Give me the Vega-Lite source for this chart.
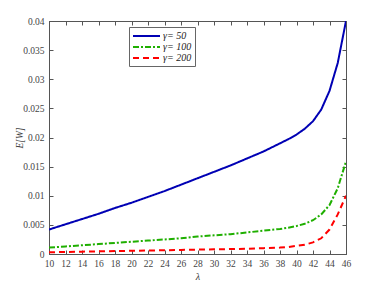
{
  "$schema": "https://vega.github.io/schema/vega-lite/v6.json",
  "width": 297,
  "height": 233,
  "autosize": {"type": "none"},
  "padding": {"left": 49, "top": 21, "right": 36, "bottom": 32},
  "background": "white",
  "config": {
    "view": {"stroke": "#555", "strokeWidth": 1},
    "font": "Times New Roman, Liberation Serif, serif"
  },
  "data": {"values": [
    {"lam": 10, "ew": 0.0042, "g": "γ= 50"}, {"lam": 12, "ew": 0.0051, "g": "γ= 50"}, {"lam": 14, "ew": 0.0060, "g": "γ= 50"}, {"lam": 16, "ew": 0.0069, "g": "γ= 50"}, {"lam": 18, "ew": 0.0079, "g": "γ= 50"}, {"lam": 20, "ew": 0.0088, "g": "γ= 50"}, {"lam": 22, "ew": 0.0098, "g": "γ= 50"}, {"lam": 24, "ew": 0.0108, "g": "γ= 50"}, {"lam": 26, "ew": 0.0119, "g": "γ= 50"}, {"lam": 28, "ew": 0.0130, "g": "γ= 50"}, {"lam": 30, "ew": 0.0141, "g": "γ= 50"}, {"lam": 32, "ew": 0.0152, "g": "γ= 50"}, {"lam": 34, "ew": 0.0164, "g": "γ= 50"}, {"lam": 36, "ew": 0.0176, "g": "γ= 50"}, {"lam": 38, "ew": 0.0190, "g": "γ= 50"}, {"lam": 39, "ew": 0.0197, "g": "γ= 50"}, {"lam": 40, "ew": 0.0205, "g": "γ= 50"}, {"lam": 41, "ew": 0.0215, "g": "γ= 50"}, {"lam": 42, "ew": 0.0228, "g": "γ= 50"}, {"lam": 43, "ew": 0.0248, "g": "γ= 50"}, {"lam": 44, "ew": 0.0280, "g": "γ= 50"}, {"lam": 45, "ew": 0.0328, "g": "γ= 50"}, {"lam": 46, "ew": 0.0400, "g": "γ= 50"},
    {"lam": 10, "ew": 0.0011, "g": "γ= 100"}, {"lam": 12, "ew": 0.0013, "g": "γ= 100"}, {"lam": 14, "ew": 0.0015, "g": "γ= 100"}, {"lam": 16, "ew": 0.0017, "g": "γ= 100"}, {"lam": 18, "ew": 0.0019, "g": "γ= 100"}, {"lam": 20, "ew": 0.0021, "g": "γ= 100"}, {"lam": 22, "ew": 0.0023, "g": "γ= 100"}, {"lam": 24, "ew": 0.0025, "g": "γ= 100"}, {"lam": 26, "ew": 0.0027, "g": "γ= 100"}, {"lam": 28, "ew": 0.0030, "g": "γ= 100"}, {"lam": 30, "ew": 0.0032, "g": "γ= 100"}, {"lam": 32, "ew": 0.0034, "g": "γ= 100"}, {"lam": 34, "ew": 0.0037, "g": "γ= 100"}, {"lam": 36, "ew": 0.0040, "g": "γ= 100"}, {"lam": 38, "ew": 0.0043, "g": "γ= 100"}, {"lam": 39, "ew": 0.0045, "g": "γ= 100"}, {"lam": 40, "ew": 0.0048, "g": "γ= 100"}, {"lam": 41, "ew": 0.0052, "g": "γ= 100"}, {"lam": 42, "ew": 0.0058, "g": "γ= 100"}, {"lam": 43, "ew": 0.0068, "g": "γ= 100"}, {"lam": 44, "ew": 0.0084, "g": "γ= 100"}, {"lam": 45, "ew": 0.0113, "g": "γ= 100"}, {"lam": 46, "ew": 0.0159, "g": "γ= 100"},
    {"lam": 10, "ew": 0.0003, "g": "γ= 200"}, {"lam": 12, "ew": 0.00035, "g": "γ= 200"}, {"lam": 14, "ew": 0.0004, "g": "γ= 200"}, {"lam": 16, "ew": 0.00045, "g": "γ= 200"}, {"lam": 18, "ew": 0.0005, "g": "γ= 200"}, {"lam": 20, "ew": 0.00055, "g": "γ= 200"}, {"lam": 22, "ew": 0.0006, "g": "γ= 200"}, {"lam": 24, "ew": 0.00065, "g": "γ= 200"}, {"lam": 26, "ew": 0.0007, "g": "γ= 200"}, {"lam": 28, "ew": 0.00075, "g": "γ= 200"}, {"lam": 30, "ew": 0.0008, "g": "γ= 200"}, {"lam": 32, "ew": 0.00085, "g": "γ= 200"}, {"lam": 34, "ew": 0.0009, "g": "γ= 200"}, {"lam": 36, "ew": 0.0010, "g": "γ= 200"}, {"lam": 38, "ew": 0.0011, "g": "γ= 200"}, {"lam": 39, "ew": 0.0012, "g": "γ= 200"}, {"lam": 40, "ew": 0.0014, "g": "γ= 200"}, {"lam": 41, "ew": 0.0016, "g": "γ= 200"}, {"lam": 42, "ew": 0.0020, "g": "γ= 200"}, {"lam": 43, "ew": 0.0027, "g": "γ= 200"}, {"lam": 44, "ew": 0.0042, "g": "γ= 200"}, {"lam": 45, "ew": 0.0068, "g": "γ= 200"}, {"lam": 46, "ew": 0.0100, "g": "γ= 200"}
  ]},
  "layer": [
    {
      "mark": {"type": "line", "strokeWidth": 2, "clip": true},
      "encoding": {
        "x": {"field": "lam", "type": "quantitative", "scale": {"domain": [10, 46], "nice": false},
          "axis": {"orient": "bottom", "values": [10,12,14,16,18,20,22,24,26,28,30,32,34,36,38,40,42,44,46], "title": "λ", "titleFont": "Times New Roman, Liberation Serif, serif", "titleFontStyle": "italic", "titleFontWeight": "normal", "titleFontSize": 10, "titleColor": "#333", "titlePadding": 4, "labelFont": "Times New Roman, Liberation Serif, serif", "labelFontSize": 9.5, "labelColor": "#444", "tickSize": -4, "tickColor": "#555", "labelPadding": 8, "domainColor": "#555", "grid": false, "labelFlush": false}},
        "y": {"field": "ew", "type": "quantitative", "scale": {"domain": [0, 0.04], "nice": false},
          "axis": {"orient": "left", "values": [0,0.005,0.01,0.015,0.02,0.025,0.03,0.035,0.04], "format": "~g", "title": "E[W]", "titleFont": "Times New Roman, Liberation Serif, serif", "titleFontStyle": "italic", "titleFontWeight": "normal", "titleFontSize": 9.5, "titleColor": "#333", "titlePadding": -2, "labelFont": "Times New Roman, Liberation Serif, serif", "labelFontSize": 9.5, "labelColor": "#444", "tickSize": -4, "tickColor": "#555", "labelPadding": 9, "domainColor": "#555", "grid": false}},
        "color": {"field": "g", "type": "nominal", "scale": {"domain": ["γ= 50", "γ= 100", "γ= 200"], "range": ["#0000b4", "#1faf00", "#ff0000"]},
          "legend": {"orient": "none", "legendX": 80, "legendY": 6, "title": null, "symbolType": "M-1,0H4.4", "symbolSize": 100, "symbolStrokeWidth": 2, "symbolFillColor": "transparent", "labelFont": "Times New Roman, Liberation Serif, serif", "labelFontStyle": "italic", "labelFontSize": 10, "labelColor": "#222", "fillColor": "white", "strokeColor": "#666", "padding": 3, "rowPadding": 0, "labelOffset": 19}},
        "strokeDash": {"field": "g", "type": "nominal", "scale": {"domain": ["γ= 50", "γ= 100", "γ= 200"], "range": [[1, 0], [6, 2, 2, 2], [6, 4]]}, "legend": null}
      }
    },
    {
      "mark": {"type": "point", "opacity": 0},
      "encoding": {
        "x": {"field": "lam", "type": "quantitative", "scale": {"domain": [10, 46], "nice": false},
          "axis": {"orient": "top", "values": [10,12,14,16,18,20,22,24,26,28,30,32,34,36,38,40,42,44,46], "labels": false, "title": null, "tickSize": -4, "tickColor": "#555", "domainColor": "#555", "grid": false}},
        "y": {"field": "ew", "type": "quantitative", "scale": {"domain": [0, 0.04], "nice": false},
          "axis": {"orient": "right", "values": [0,0.005,0.01,0.015,0.02,0.025,0.03,0.035,0.04], "labels": false, "title": null, "tickSize": -4, "tickColor": "#555", "domainColor": "#555", "grid": false}}
      }
    }
  ],
  "resolve": {"axis": {"x": "independent", "y": "independent"}}
}
